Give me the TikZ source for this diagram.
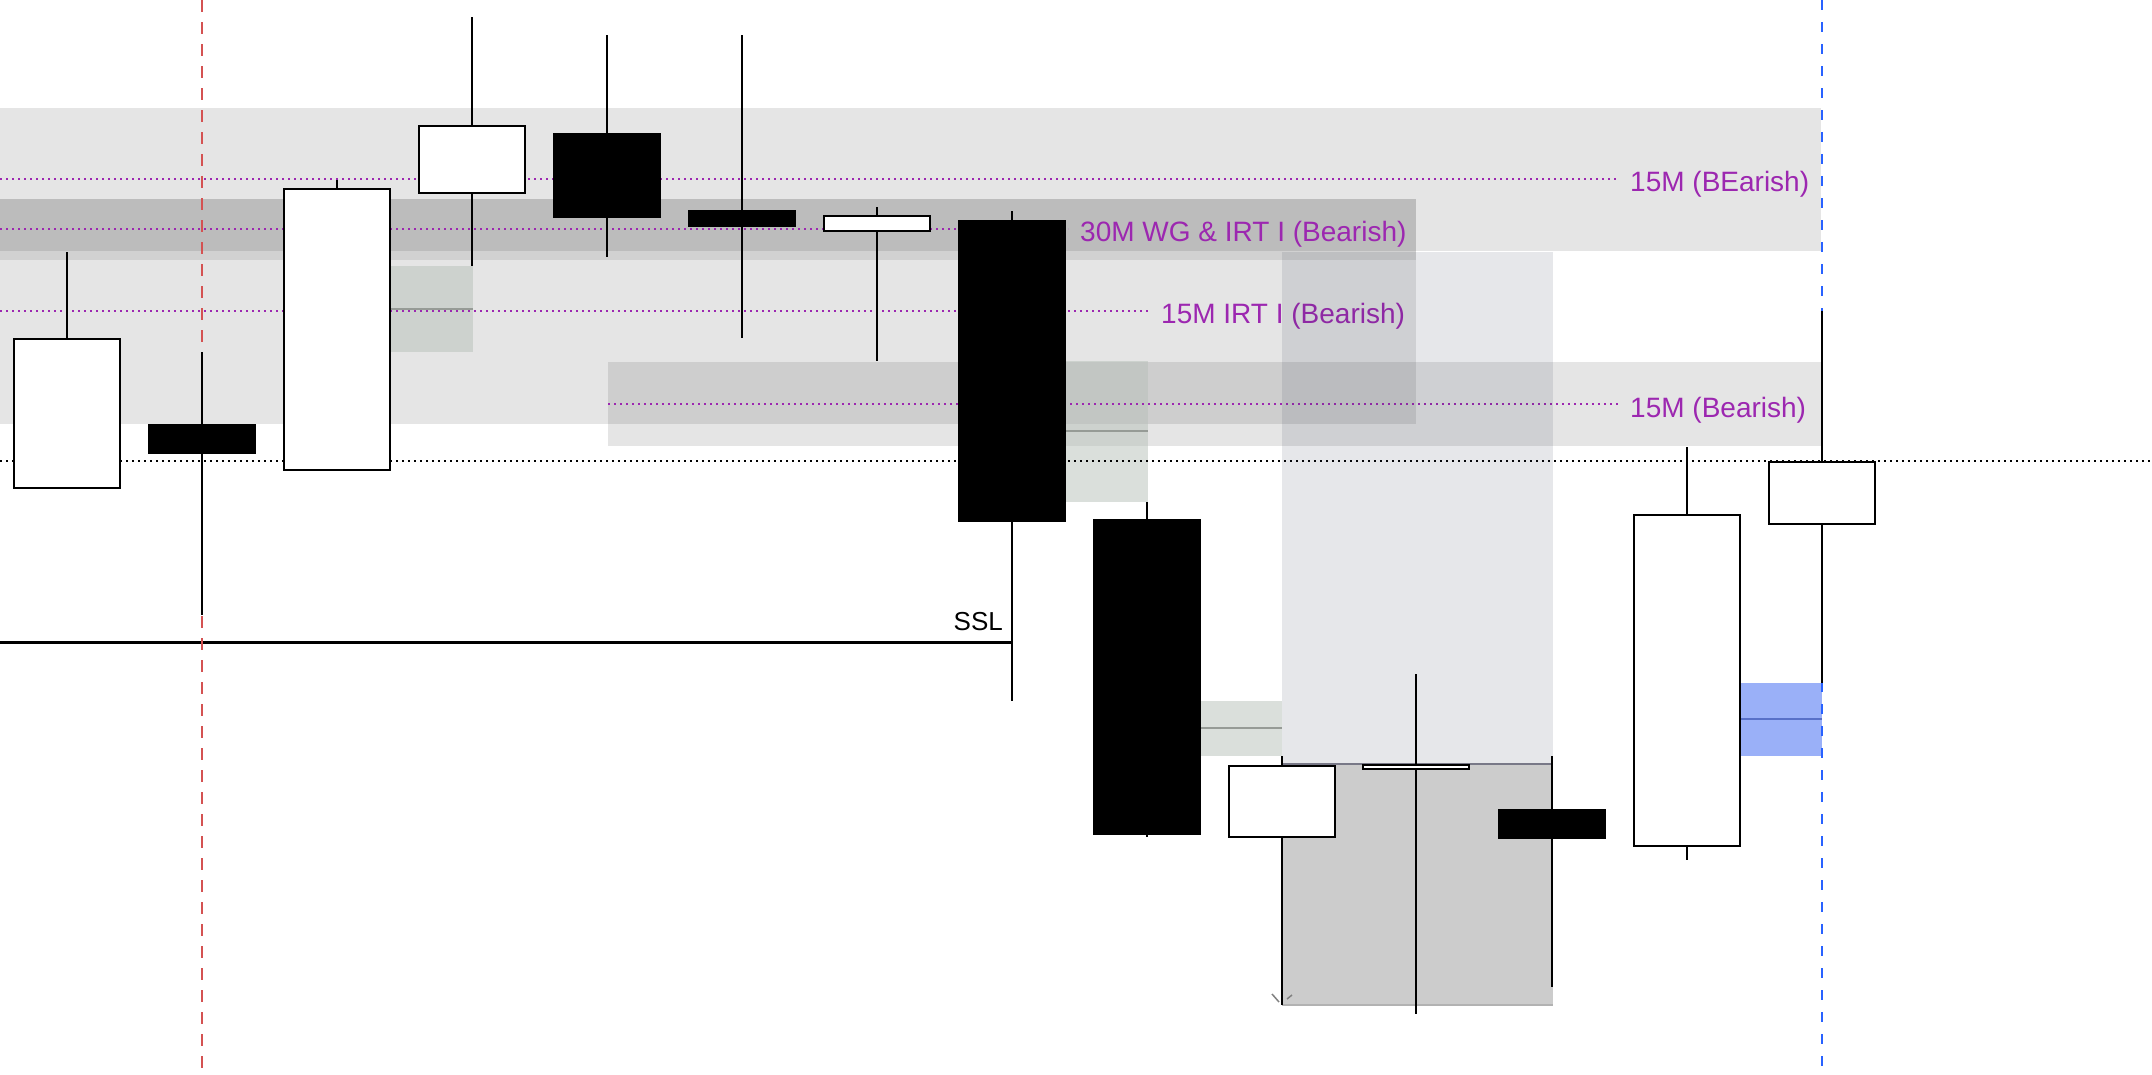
\documentclass[tikz,border=0pt]{standalone}
\usepackage{fontspec}
\setmainfont{Liberation Sans}
\usepackage{tikz}
\usepackage{xcolor}
\usetikzlibrary{positioning}

\definecolor{tvpurple}{RGB}{156,39,176}
\definecolor{tvblue}{RGB}{41,98,255}
\definecolor{tvred}{RGB}{212,82,82}
\definecolor{slate}{RGB}{47,55,80}
\definecolor{fvgreen}{RGB}{181,191,183}
\definecolor{fvblue}{RGB}{154,176,248}
\definecolor{fvline}{RGB}{88,112,200}
\definecolor{midgray}{RGB}{150,155,150}

\begin{document}
\begin{tikzpicture}[x=1pt,y=-1pt]
\tikzstyle{zone}=[fill=black,fill opacity=0.1]
\tikzstyle{fvg}=[fill=fvgreen,fill opacity=0.5]
\tikzstyle{mid}=[line width=2pt,midgray]
\tikzstyle{level}=[tvpurple,line width=2pt,dash pattern=on 2pt off 4pt]
\tikzstyle{lbl}=[anchor=base west,inner xsep=12pt,inner ysep=0pt,text=tvpurple,font=\fontsize{28}{32}\selectfont]
\tikzstyle{wick}=[line width=2pt]
\tikzstyle{body}=[draw=black,line width=2.5pt]

\useasboundingbox (0,0) rectangle (2152,1074);

% zones
\fill[zone] (0,108) rectangle (1821,251);
\fill[black,fill opacity=0.18] (0,199) rectangle (1416,260);
\fill[zone] (0,260) rectangle (1416,424);
\fill[zone] (608,362) rectangle (1821,446);
\fill[fvg] (390,266) rectangle (473,352);
\fill[fvg] (1066,361) rectangle (1148,502);
\fill[fvg] (1201,701) rectangle (1282,756);
\draw[mid] (390,309) -- (473,309) (1066,431) -- (1148,431) (1201,728) -- (1282,728);

% levels
\node[lbl] (lbA) at (1618,191) {15M (BEarish)};
\node[lbl] (lbB) at (1068,241) {30M WG \& IRT I (Bearish)};
\node[lbl] (lbC) at (1149,323) {15M IRT I (Bearish)};
\node[lbl] (lbD) at (1618,417) {15M (Bearish)};
\coordinate (oA) at (0,179);
\coordinate (oB) at (0,229);
\coordinate (oC) at (0,311);
\coordinate (oD) at (608,404);
\draw[level] (oA) -- (oA -| lbA.west);
\draw[level] (oB) -- (oB -| lbB.west);
\draw[level] (oC) -- (oC -| lbC.west);
\draw[level] (oD) -- (oD -| lbD.west);

\draw[line width=2pt,dash pattern=on 2pt off 4pt] (0,461) -- (2152,461);

% SSL
\coordinate (sslA) at (0,642);
\coordinate (sslB) at (1012,642);
\draw[line width=3pt] (sslA) -- (sslB);
\node[anchor=base east,inner sep=0pt,font=\fontsize{26}{30}\selectfont] (ssl) at (1003,630) {SSL};

\draw[tvred,line width=1.5pt,dash pattern=on 12pt off 10pt] (202,0) -- (202,1074);

% range box
\fill[slate,fill opacity=0.12] (1282,252) rectangle (1553,764);
\fill[black,fill opacity=0.2] (1282,764) rectangle (1553,1005);
\draw[line width=2pt,color={rgb,255:red,120;green,120;blue,135}] (1282,764) -- (1553,764);
\draw[line width=2pt,gray!60] (1282,1005) -- (1553,1005);
\draw[line width=1.5pt,gray] (1272,994) -- (1279,1002) (1287,999) -- (1292,995);

\fill[fvblue] (1740,683) rectangle (1822,756);
\draw[line width=2pt,fvline] (1740,719) -- (1822,719);
\draw[tvblue,line width=2pt,dash pattern=on 10pt off 12pt] (1822,0) -- (1822,1074);

% candles
\foreach \x/\hi/\lo/\op/\cl/\col in {67/252/488/339/488/white, 202/352/615/425/453/black,
  337/180/470/189/470/white, 472/17/266/126/193/white, 607/35/257/134/217/black,
  742/35/338/211/226/black, 877/207/361/216/231/white, 1012/211/701/221/521/black,
  1147/502/837/520/834/black, 1282/756/1005/766/837/white, 1416/674/1014/765/769/white,
  1552/756/987/810/838/black, 1687/447/860/515/846/white, 1822/311/683/462/524/white}
{
  \draw[wick] (\x,\hi) -- (\x,\lo);
  \draw[body,fill=\col] (\x-53,\op) rectangle (\x+53,\cl);
}
\end{tikzpicture}
\end{document}
